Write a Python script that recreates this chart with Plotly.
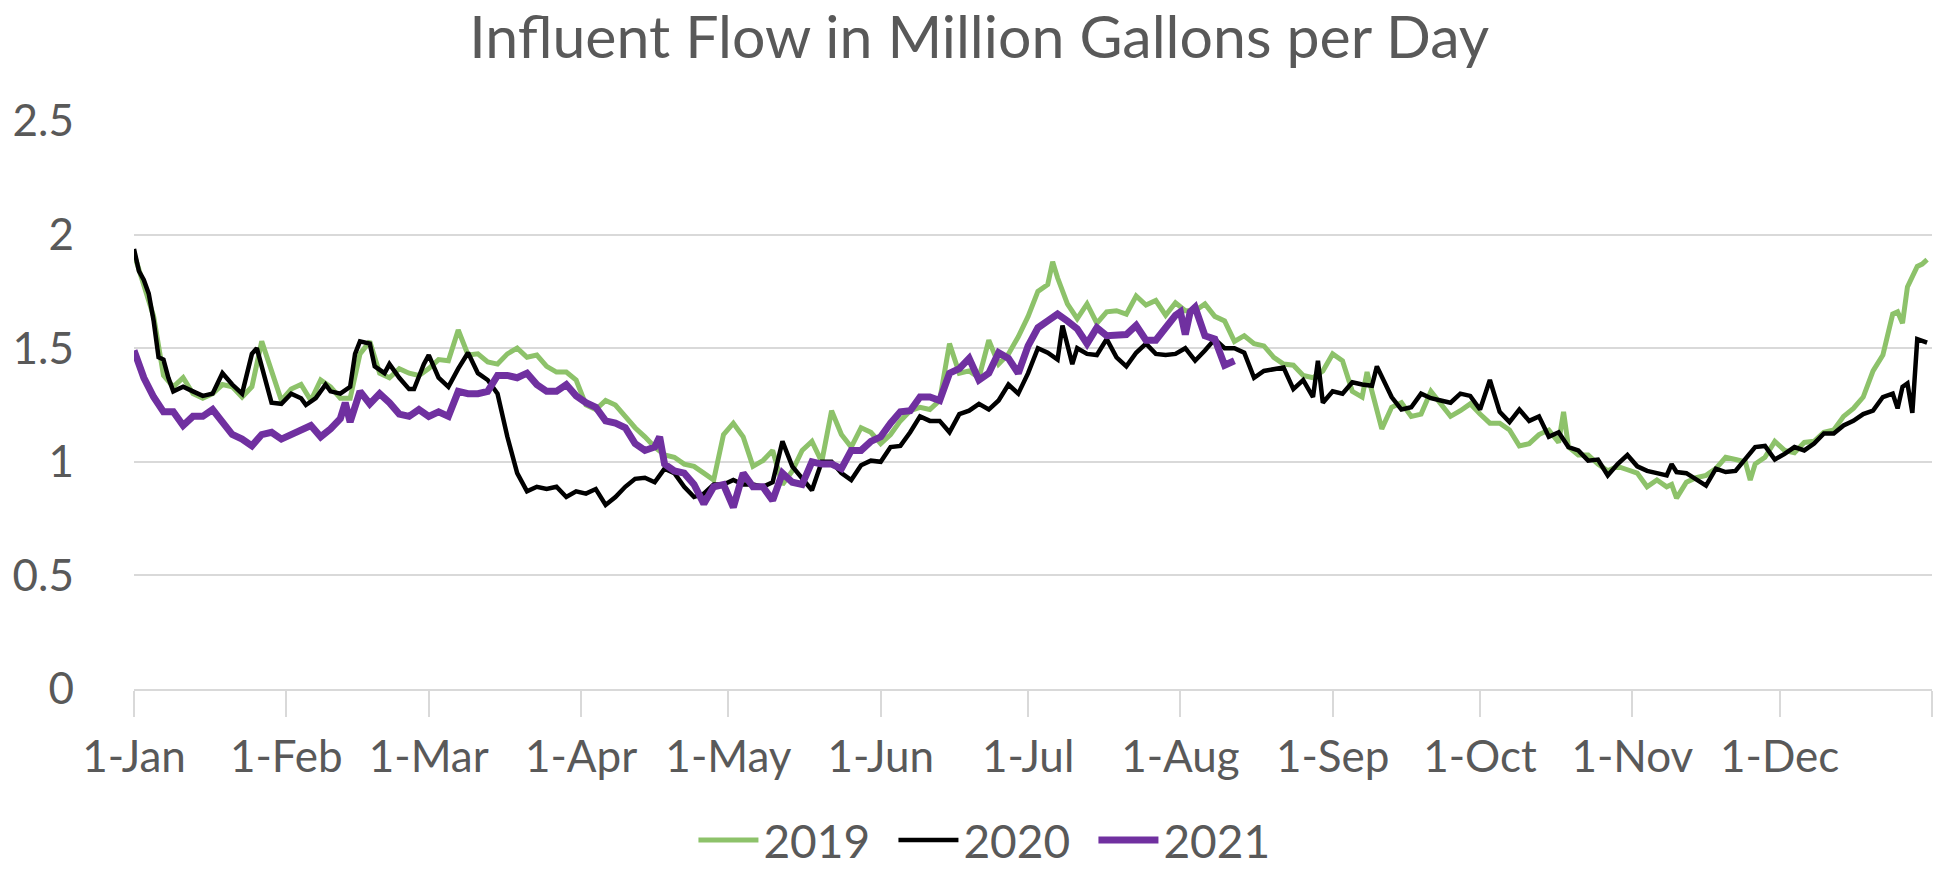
import plotly.graph_objects as go

# ---- data (day index from 1-Jan, values in MGD) ----
days_2019 = [0,2,4,6,8,10,12,14,16,18,20,22,24,26,28,30,32,34,36,38,40,42,44,46,48,50,52,54,56,58,
             60,62,64,66,68,70,72,74,76,78,80,82,84,86,88,90,92,94,96,98,100,102,104,106,108,110,112,114,116,118,
             120,122,124,126,128,130,132,134,136,138,140,142,144,146,148,150,152,154,156,158,160,162,164,166,168,170,172,174,176,178,
             180,182,184,186,187,188,190,192,194,196,198,200,202,204,206,208,210,212,214,216,218,220,222,224,226,228,230,232,234,236,238,240,
             242,244,246,248,250,251,252,254,256,258,260,262,264,266,268,270,272,274,276,278,280,282,284,286,288,290,291,292,294,296,298,300,
             302,304,306,308,310,312,313,314,316,318,320,322,324,326,328,329,330,332,334,336,338,340,342,344,346,348,350,352,354,356,358,359,
             360,361,362,363,364,365]
flow_2019 = [1.915,1.77,1.64,1.38,1.33,1.37,1.30,1.28,1.30,1.34,1.33,1.285,1.33,1.53,1.40,1.27,1.32,1.34,1.27,1.36,1.33,1.28,1.28,1.475,1.53,1.39,1.37,1.41,1.39,1.38,
             1.41,1.45,1.445,1.58,1.47,1.475,1.44,1.43,1.475,1.50,1.46,1.47,1.42,1.395,1.395,1.36,1.25,1.23,1.27,1.25,1.20,1.15,1.11,1.065,1.03,1.02,0.99,0.98,0.95,0.92,
             1.12,1.17,1.11,0.98,1.005,1.05,0.90,0.96,1.05,1.09,1.00,1.225,1.12,1.065,1.15,1.13,1.08,1.12,1.18,1.225,1.24,1.23,1.27,1.52,1.39,1.40,1.37,1.535,1.43,1.475,
             1.55,1.64,1.75,1.78,1.88,1.81,1.695,1.63,1.695,1.61,1.66,1.665,1.65,1.73,1.69,1.71,1.645,1.70,1.665,1.665,1.695,1.64,1.62,1.53,1.555,1.52,1.51,1.46,1.43,1.425,1.38,1.37,
             1.40,1.475,1.445,1.31,1.285,1.395,1.31,1.145,1.24,1.26,1.20,1.21,1.31,1.255,1.20,1.225,1.255,1.21,1.17,1.17,1.14,1.07,1.08,1.12,1.14,1.085,1.22,1.065,1.03,1.03,0.99,0.96,
             0.98,0.965,0.95,0.89,0.92,0.89,0.90,0.84,0.91,0.93,0.94,0.97,1.02,1.01,1.00,0.92,0.99,1.02,1.09,1.05,1.04,1.085,1.09,1.13,1.14,1.20,1.235,1.285,1.40,1.47,1.65,1.66,
             1.61,1.77,1.82,1.86,1.87,1.89]

days_2020 = [0,1,2,3,4,5,6,7,8,10,12,14,16,18,20,22,24,25,27,28,30,32,34,35,37,39,40,42,44,45,46,48,49,51,52,54,56,57,59,
             60,62,64,66,68,70,72,74,76,78,80,82,84,86,88,90,92,94,96,98,100,102,104,106,108,110,112,114,116,118,
             120,122,124,126,128,130,132,134,136,138,140,142,144,146,148,150,152,154,156,158,160,162,164,166,168,170,172,174,176,178,
             180,182,184,186,188,189,191,192,194,196,198,200,202,204,206,208,210,212,214,216,218,220,222,224,226,228,230,232,234,236,238,240,
             241,242,244,246,248,250,252,253,256,258,260,262,264,266,268,270,272,274,276,278,280,282,284,286,288,290,292,294,296,298,300,
             302,304,306,308,310,312,313,314,316,318,320,322,324,326,328,330,332,334,336,338,340,342,344,346,348,350,352,354,356,358,359,
             360,361,362,363,365]
flow_2020 = [1.937,1.84,1.80,1.74,1.62,1.46,1.45,1.37,1.31,1.33,1.31,1.29,1.30,1.39,1.34,1.30,1.475,1.50,1.34,1.26,1.255,1.30,1.28,1.25,1.28,1.34,1.31,1.30,1.33,1.475,1.53,1.52,1.42,1.39,1.43,1.37,1.32,1.32,1.43,
             1.47,1.37,1.33,1.41,1.48,1.39,1.36,1.30,1.11,0.95,0.87,0.89,0.88,0.89,0.845,0.87,0.86,0.88,0.81,0.845,0.89,0.925,0.93,0.91,0.97,0.95,0.89,0.845,0.86,0.90,
             0.90,0.92,0.90,0.90,0.89,0.91,1.09,0.98,0.93,0.875,1.00,1.00,0.95,0.92,0.985,1.005,1.00,1.065,1.07,1.13,1.20,1.18,1.18,1.13,1.21,1.225,1.255,1.23,1.27,1.34,
             1.30,1.39,1.50,1.48,1.45,1.60,1.43,1.50,1.475,1.47,1.54,1.46,1.42,1.48,1.52,1.475,1.47,1.475,1.50,1.445,1.49,1.54,1.50,1.50,1.48,1.37,1.40,1.41,1.415,1.32,1.36,1.285,
             1.445,1.26,1.31,1.30,1.35,1.34,1.335,1.42,1.285,1.23,1.24,1.30,1.28,1.27,1.26,1.30,1.29,1.23,1.36,1.22,1.175,1.23,1.18,1.20,1.11,1.13,1.065,1.05,1.005,1.01,0.94,
             0.99,1.03,0.98,0.96,0.95,0.94,0.99,0.955,0.95,0.925,0.895,0.97,0.955,0.96,1.01,1.065,1.07,1.01,1.035,1.065,1.05,1.08,1.125,1.125,1.16,1.18,1.21,1.225,1.285,1.30,1.235,
             1.33,1.345,1.215,1.54,1.525]

days_2021 = [0,2,4,6,8,10,12,14,16,18,20,22,24,26,28,30,32,34,36,38,40,42,43,44,46,48,50,52,54,56,58,
             60,62,64,66,68,70,72,74,76,78,80,82,84,86,88,90,92,94,96,98,100,102,104,106,107,108,110,112,114,116,118,
             120,122,124,126,128,130,132,134,136,138,140,142,144,146,148,150,152,154,156,158,160,162,164,166,168,170,172,174,176,178,
             180,182,184,186,188,190,192,194,196,198,200,202,204,206,208,210,212,213,214,215,216,218,220,222,224]
flow_2021 = [1.49,1.37,1.285,1.22,1.22,1.16,1.20,1.20,1.23,1.18,1.12,1.10,1.07,1.12,1.13,1.10,1.12,1.145,1.16,1.11,1.145,1.19,1.26,1.175,1.31,1.255,1.30,1.26,1.21,1.20,1.23,
             1.20,1.22,1.20,1.31,1.30,1.30,1.31,1.38,1.38,1.37,1.39,1.34,1.31,1.31,1.34,1.29,1.26,1.24,1.18,1.17,1.15,1.08,1.05,1.065,1.11,0.99,0.96,0.95,0.90,0.815,0.89,
             0.90,0.80,0.95,0.89,0.89,0.83,0.95,0.91,0.90,1.00,0.99,0.99,0.97,1.05,1.05,1.09,1.11,1.17,1.22,1.225,1.285,1.285,1.27,1.39,1.41,1.455,1.36,1.39,1.48,1.455,
             1.39,1.51,1.59,1.62,1.65,1.62,1.585,1.52,1.59,1.555,1.555,1.56,1.60,1.535,1.535,1.59,1.645,1.66,1.56,1.66,1.68,1.555,1.54,1.425,1.445]

month_days = [0, 31, 60, 91, 121, 152, 182, 213, 244, 274, 305, 335, 366]
month_labels = ["1-Jan", "1-Feb", "1-Mar", "1-Apr", "1-May", "1-Jun", "1-Jul", "1-Aug",
                "1-Sep", "1-Oct", "1-Nov", "1-Dec", ""]
y_ticks = [0, 0.5, 1, 1.5, 2, 2.5]
y_labels = ["0", "0.5", "1", "1.5", "2", "2.5"]

FONT = "Lato, Open Sans, sans-serif"
TXT = "#595959"
GRID = "#d9d9d9"

fig = go.Figure()
fig.add_trace(go.Scatter(x=days_2019, y=flow_2019, mode="lines", name="2019",
                         line=dict(color="#8dc26a", width=5)))
fig.add_trace(go.Scatter(x=days_2020, y=flow_2020, mode="lines", name="2020",
                         line=dict(color="#000000", width=4.5)))
fig.add_trace(go.Scatter(x=days_2021, y=flow_2021, mode="lines", name="2021",
                         line=dict(color="#7030a0", width=7)))

fig.update_layout(
    width=1939, height=871, autosize=False,
    paper_bgcolor="white", plot_bgcolor="white",
    margin=dict(l=134, r=7, t=121, b=182, autoexpand=False),
    font=dict(family=FONT, color=TXT, size=44),
    title=dict(text="Influent Flow in Million Gallons per Day", x=0.505, xanchor="center",
               y=0.957, yanchor="middle", yref="container",
               font=dict(family=FONT, size=59, color=TXT)),
    showlegend=True,
    legend=dict(orientation="h", xref="paper", x=0.478, xanchor="center",
                yref="paper", y=-0.266, yanchor="middle",
                font=dict(size=46, color=TXT), itemwidth=60, entrywidth=125,
                entrywidthmode="pixels", tracegroupgap=0, bgcolor="rgba(0,0,0,0)"),
    xaxis=dict(range=[0, 366], tickmode="array", tickvals=month_days, ticktext=month_labels,
               showgrid=False, zeroline=False, showline=True, linecolor=GRID, linewidth=2,
               ticks="outside", ticklen=26, tickwidth=2, tickcolor=GRID, tickangle=0,
               ticklabelstandoff=2, tickfont=dict(size=44, color=TXT), automargin=False),
    yaxis=dict(range=[0, 2.5], tickmode="array", tickvals=y_ticks, ticktext=y_labels,
               showgrid=True, gridcolor=GRID, gridwidth=2, zeroline=False, showline=False,
               ticks="", ticklabelstandoff=59, tickfont=dict(size=44, color=TXT), automargin=False),
)

fig.write_html("out.html", config={"displayModeBar": False},
               post_script="document.body.style.margin='0';document.body.style.overflow='hidden';")
